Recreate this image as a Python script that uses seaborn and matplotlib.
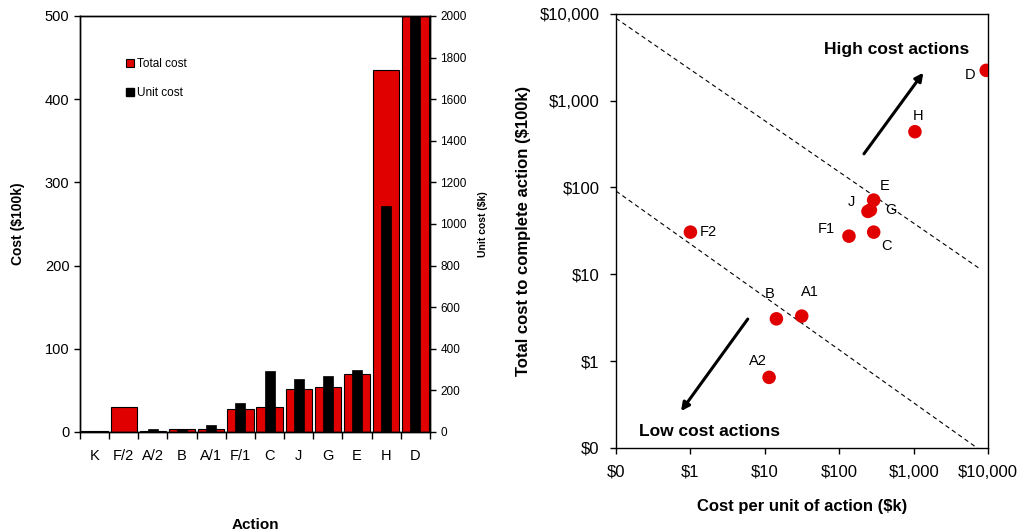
import numpy as np
import seaborn as sns
import matplotlib.pyplot as plt
from matplotlib.patches import Patch
from matplotlib.ticker import FuncFormatter, NullLocator

# data
actions = ["K", "F/2", "A/2", "B", "A/1", "F/1", "C", "J", "G", "E", "H", "D"]
total_cost = [1.2, 30, 0.65, 3.1, 3.3, 27.5, 30, 52, 54, 70, 435, 2230]      # $100k
unit_cost = [2, 1, 12, 15, 32, 138, 295, 255, 268, 298, 1085, 9400]          # $k

pt_labels = ["F2", "A2", "B", "A1", "F1", "C", "J", "G", "E", "H", "D"]
pt_unit = [1.0, 11.4, 14.3, 31.3, 135, 290, 243, 262, 290, 1040, 9440]
pt_total = [30.6, 0.65, 3.07, 3.3, 27.5, 30.6, 53, 55, 71.6, 439, 2233]
pt_offsets = [(13, 0), (-8, 12), (-5, 18), (6, 17), (-16, 5), (9, -10),
              (-12, 7), (15, 0), (8, 10), (2, 11), (-12, -3)]

# threshold lines and arrows (log-log data space)
upper_line_x, upper_line_y = [0.1, 7400], [8870, 11.9]
lower_line_x, lower_line_y = [0.1, 8170], [90.9, 0.092]
high_arrow = [(204, 230), (1420, 2230)]
low_arrow = [(6.2, 3.24), (0.71, 0.25)]

sns.set_style("white")
plt.rcParams["font.family"] = ["Liberation Sans", "DejaVu Sans"]
plt.rcParams["text.color"] = "black"
plt.rcParams["axes.labelcolor"] = "black"
plt.rcParams["xtick.color"] = "black"
plt.rcParams["ytick.color"] = "black"

red = "#e00000"
fig = plt.figure(figsize=(10.25, 5.32), dpi=100)

# ---------------- bar chart ----------------
ax = fig.add_axes([0.078, 0.188, 0.3415, 0.782])
sns.barplot(x=actions, y=total_cost, color=red, width=0.9, saturation=1,
            edgecolor="black", linewidth=0.8, ax=ax)
ax2 = ax.twinx()
sns.barplot(x=actions, y=unit_cost, color="black", width=0.34, saturation=1,
            edgecolor="black", linewidth=0.5, ax=ax2)

n = len(actions)
for a in (ax, ax2):
    a.set_xlim(-0.5, n - 0.5)
ax.set_ylim(0, 500)
ax2.set_ylim(0, 2000)
ax.set_yticks(range(0, 501, 100))
ax2.set_yticks(range(0, 2001, 200))
ax.set_xticks(np.arange(-0.5, n, 1))
ax.set_xticklabels([""] * (n + 1))
ax.set_xticks(range(n), actions, minor=True)
ax.tick_params(axis="x", which="major", direction="out", length=5, width=1, bottom=True)
ax.tick_params(axis="x", which="minor", length=0, pad=12, labelsize=10.5)
ax.tick_params(axis="y", direction="out", length=4, width=1, left=True, labelsize=10.5)
ax2.tick_params(axis="y", direction="out", length=4, width=1, right=True, labelsize=8.5)
for a in (ax, ax2):
    for s in a.spines.values():
        s.set_color("black")
        s.set_linewidth(1)
ax.set_xlabel("Action", fontsize=11, fontweight="bold", labelpad=40)
ax.set_ylabel("Cost ($100k)", fontsize=10, fontweight="bold", labelpad=14)
ax2.set_ylabel("Unit cost ($k)", fontsize=7.5, fontweight="bold", labelpad=8)
ax2.set_xlabel("")

handles = [Patch(facecolor=red, edgecolor="black", linewidth=0.8, label="Total cost"),
           Patch(facecolor="black", edgecolor="black", label="Unit cost")]
ax.legend(handles=handles, loc="upper left", bbox_to_anchor=(0.1, 0.925), frameon=False,
          fontsize=8.5, labelspacing=1.5, handlelength=0.7, handleheight=0.7,
          handletextpad=0.3)

# ---------------- scatter ----------------
ax3 = fig.add_axes([0.601, 0.158, 0.363, 0.816])
sns.scatterplot(x=pt_unit, y=pt_total, color=red, s=95, edgecolor="none", ax=ax3,
                zorder=3)
ax3.set_xscale("log")
ax3.set_yscale("log")
ax3.set_xlim(0.1, 10000)
ax3.set_ylim(0.1, 10000)
ax3.set_xticks([0.1, 1, 10, 100, 1000, 10000])
ax3.set_yticks([0.1, 1, 10, 100, 1000, 10000])
fmt = FuncFormatter(lambda v, p: f"${v:,.0f}")
ax3.xaxis.set_major_formatter(fmt)
ax3.yaxis.set_major_formatter(fmt)
ax3.xaxis.set_minor_locator(NullLocator())
ax3.yaxis.set_minor_locator(NullLocator())
ax3.tick_params(direction="out", length=4, width=1, bottom=True, left=True,
                labelsize=12, pad=8)
for s in ax3.spines.values():
    s.set_color("black")
    s.set_linewidth(1)

ax3.plot(upper_line_x, upper_line_y, color="black", lw=0.8, ls=(0, (4, 3)))
ax3.plot(lower_line_x, lower_line_y, color="black", lw=0.8, ls=(0, (4, 3)))

for lab, xv, yv, off in zip(pt_labels, pt_unit, pt_total, pt_offsets):
    ax3.annotate(lab, (xv, yv), xytext=off, textcoords="offset points",
                 ha="center", va="center", fontsize=10.5)

ax3.annotate("", xy=high_arrow[1], xytext=high_arrow[0],
             arrowprops=dict(arrowstyle="-|>", lw=2.2, color="black", mutation_scale=12))
ax3.annotate("", xy=low_arrow[1], xytext=low_arrow[0],
             arrowprops=dict(arrowstyle="-|>", lw=2.2, color="black", mutation_scale=12))
ax3.text(590, 3900, "High cost actions", ha="center", va="center",
         fontsize=12.5, fontweight="bold")
ax3.text(1.78, 0.155, "Low cost actions", ha="center", va="center",
         fontsize=12.5, fontweight="bold")

ax3.set_xlabel("Cost per unit of action ($k)", fontsize=12, fontweight="bold", labelpad=14)
ax3.set_ylabel("Total cost to complete action ($100k)", fontsize=12, fontweight="bold",
               labelpad=6)

fig.savefig("out.png", dpi=100)
